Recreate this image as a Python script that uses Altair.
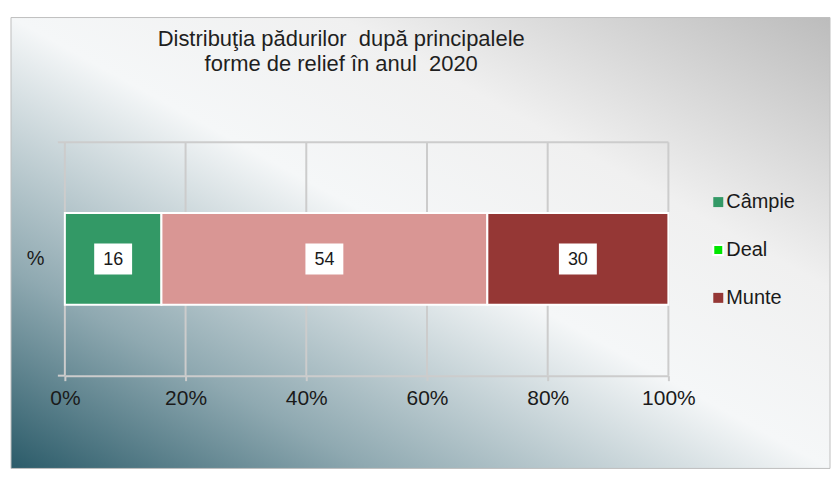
import altair as alt
import pandas as pd

categories = ["Câmpie", "Deal", "Munte"]
values = [16, 54, 30]
bar_colors = ["#339966", "#d99694", "#953735"]
legend_colors = ["#339966", "#00e600", "#953735"]
row_label = "%"
x_ticks = [0, 20, 40, 60, 80, 100]
title_lines = ["Distribuţia pădurilor\u00a0 după principalele", "forme de relief în anul\u00a0 2020"]

W, H = 605, 234
FONT = "Liberation Sans"
GRID = "#cccccc"

df = pd.DataFrame({
    "cat": categories,
    "value": values,
    "order": list(range(len(categories))),
    "row": [row_label] * len(categories),
    "bar_color": bar_colors,
    "legend_color": legend_colors,
})
ticks_df = pd.DataFrame({"tick": x_ticks})
one = pd.DataFrame({"a": [0]})

x_scale = alt.Scale(domain=[0, 100])
x_axis = alt.Axis(values=x_ticks, labelExpr="datum.value + '%'", title=None,
                  grid=False, ticks=True, tickSize=5, tickColor=GRID, tickWidth=2,
                  domain=True, domainColor=GRID, domainWidth=2, labelFlush=False,
                  labelFont=FONT, labelFontSize=21, labelColor="#1a1a1a",
                  labelPadding=7, zindex=1)
y_scale = alt.Scale(paddingInner=0, paddingOuter=0)

gradient = alt.Gradient(
    gradient="linear",
    stops=[alt.GradientStop(color="#2b5b69", offset=0),
           alt.GradientStop(color="#8fa9b1", offset=0.22),
           alt.GradientStop(color="#f5f7f8", offset=0.5),
           alt.GradientStop(color="#f0f0f0", offset=0.7),
           alt.GradientStop(color="#bcbcbc", offset=1)],
    x1=0, y1=1, x2=1, y2=0,
)

bg = alt.Chart(one).mark_rect(color=gradient, stroke="#bfbfbf", strokeWidth=1).encode(
    x=alt.value(-54), x2=alt.value(W + 162), y=alt.value(-125), y2=alt.value(H + 93)
)

grid = alt.Chart(ticks_df).mark_rule(color=GRID, strokeWidth=2).encode(
    x=alt.X("tick:Q", scale=x_scale, axis=x_axis), y=alt.value(0), y2=alt.value(H)
)
topline = alt.Chart(one).mark_rule(color=GRID, strokeWidth=2).encode(
    x=alt.value(-7), x2=alt.value(W), y=alt.value(0)
)
botline = alt.Chart(one).mark_rule(color=GRID, strokeWidth=2).encode(
    x=alt.value(-7), x2=alt.value(0), y=alt.value(H)
)

bars = alt.Chart(df).mark_bar(size=92, stroke="white", strokeWidth=2).encode(
    x=alt.X("value:Q", stack="zero", scale=x_scale, axis=x_axis),
    y=alt.Y("row:N", scale=y_scale,
            axis=alt.Axis(title=None, ticks=False, domain=False, grid=False,
                          labelFont=FONT, labelFontSize=20, labelColor="#1a1a1a",
                          labelPadding=21, zindex=1)),
    color=alt.Color("bar_color:N", scale=None),
    order=alt.Order("order:Q"),
)

mid_base = alt.Chart(df).transform_window(
    cum="sum(value)", sort=[alt.SortField("order")], frame=[None, 0]
).transform_calculate(mid="datum.cum - datum.value / 2")

boxes = mid_base.mark_point(
    shape="M-1.226,-1L1.226,-1L1.226,1L-1.226,1Z", size=961, filled=True,
    color="white", opacity=1
).encode(
    x=alt.X("mid:Q", scale=x_scale, axis=x_axis),
    y=alt.Y("row:N", scale=y_scale, axis=None),
)
labels = mid_base.mark_text(font=FONT, fontSize=18, color="#1a1a1a", baseline="middle", dy=1).encode(
    x=alt.X("mid:Q", scale=x_scale, axis=x_axis),
    y=alt.Y("row:N", scale=y_scale, axis=None),
    text=alt.Text("value:Q"),
)

title1 = alt.Chart(pd.DataFrame({"t": [title_lines[0]]})).mark_text(
    font=FONT, fontSize=22, color="#1f1f1f", align="center", baseline="alphabetic"
).encode(text="t:N", x=alt.value(277), y=alt.value(-96))
title2 = alt.Chart(pd.DataFrame({"t": [title_lines[1]]})).mark_text(
    font=FONT, fontSize=22, color="#1f1f1f", align="center", baseline="alphabetic"
).encode(text="t:N", x=alt.value(277), y=alt.value(-71))

leg_y = alt.Y("cat:N", scale=alt.Scale(type="point", domain=categories, range=[60, 156], padding=0), axis=None)
leg_sq = alt.Chart(df).mark_square(size=100, opacity=1).encode(
    x=alt.value(655), y=leg_y, color=alt.Color("legend_color:N", scale=None),
    stroke=alt.condition(alt.datum.cat == "Deal", alt.value("white"), alt.value("transparent")),
)
leg_txt = alt.Chart(df).mark_text(font=FONT, fontSize=20, color="#1a1a1a", align="left", baseline="middle").encode(
    x=alt.value(663), y=leg_y, text="cat:N"
)

chart = alt.layer(
    bg, grid, topline, botline, bars, boxes, labels, title1, title2, leg_sq, leg_txt
).resolve_scale(y="independent").properties(
    width=W, height=H, padding={"left": 2, "top": 8, "right": 0, "bottom": 0}
).configure_view(stroke=None)

chart.save("out.html", embed_options={"renderer": "svg", "actions": False})
